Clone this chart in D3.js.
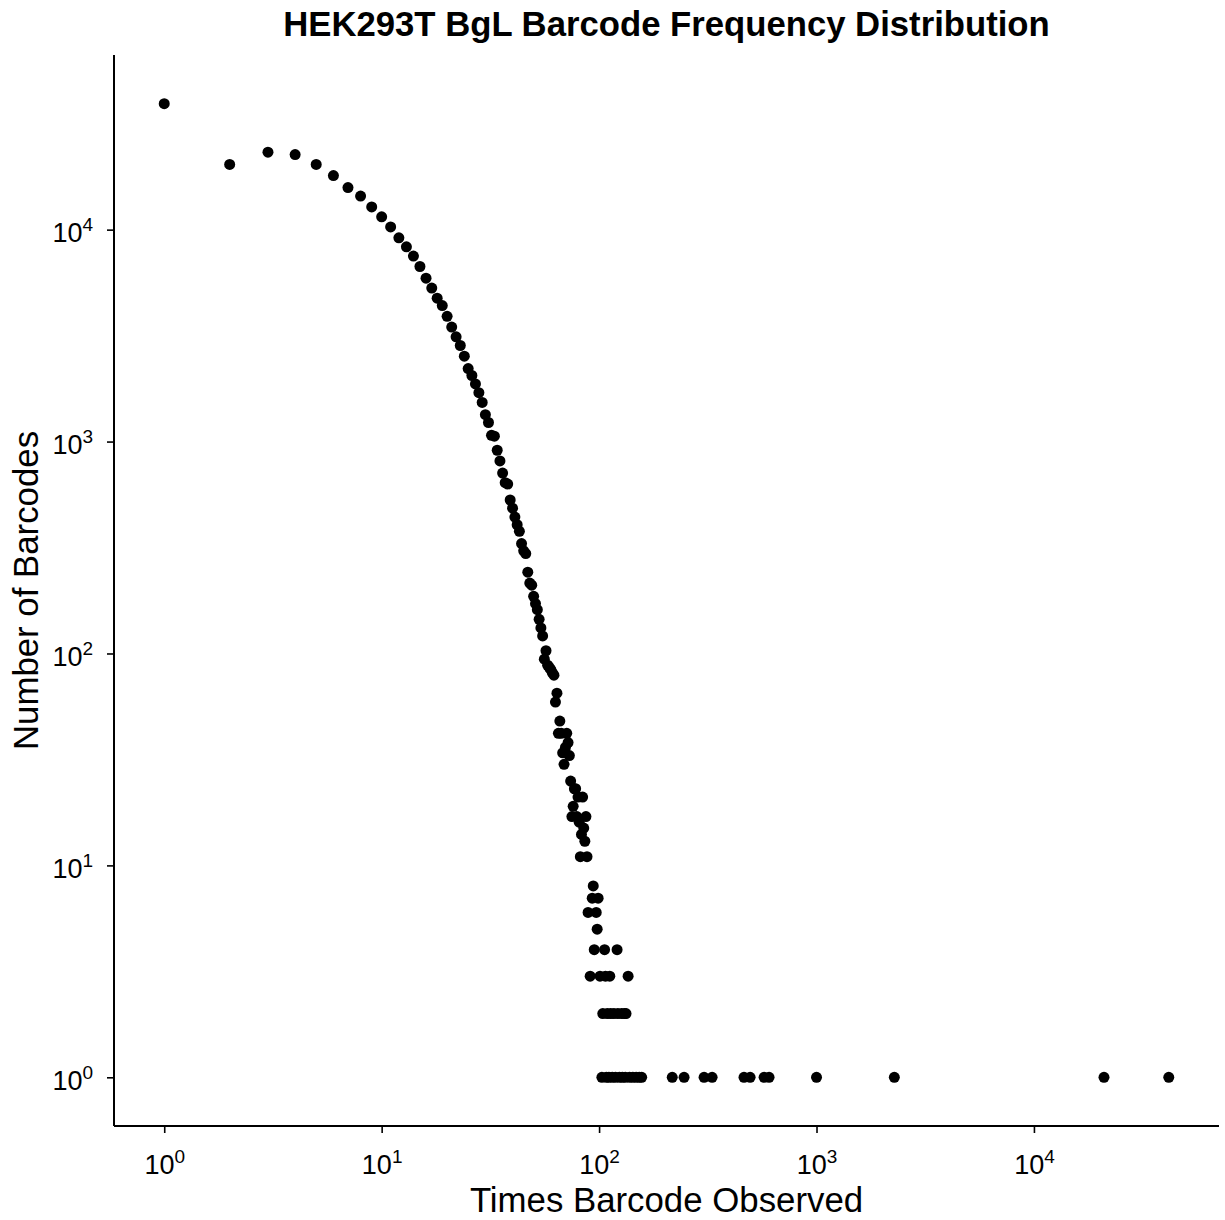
<!DOCTYPE html>
<html>
<head>
<meta charset="utf-8">
<script src="https://cdn.jsdelivr.net/npm/d3@7"></script>
<style>
  body { margin: 0; background: #fff; }
  svg { font-family: "Liberation Sans", Arial, Helvetica, sans-serif; }
</style>
</head>
<body>
<script>
// times a barcode was observed (x) and how many barcodes had that count (y)
const times = [
  1, 2, 3, 4, 5, 6, 7, 8, 9, 10,
  11, 12, 13, 14, 15, 16, 17, 18, 19, 20,
  21, 22, 23, 24, 25, 26, 27, 28, 29, 30,
  31, 32, 33, 34, 35, 36, 37, 38, 39, 40,
  41, 42, 43, 44, 45, 46, 47, 48, 49, 50,
  51, 52, 53, 54, 55, 56, 57, 58, 59, 60,
  61, 62, 63, 64, 65, 66, 67, 68, 69, 70,
  71, 72, 73, 74, 75, 76, 77, 78, 79, 80,
  81, 82, 83, 84, 85, 86, 87, 88, 89, 91,
  93, 94, 95, 97, 98, 99, 101, 103, 104, 106,
  107, 108, 109, 111, 112, 113, 115, 117, 119, 121,
  122, 124, 127, 128, 131, 132, 133, 136, 138, 143,
  148, 153, 157,
  217, 246, 304, 331, 464, 495, 574, 605, 1000, 2280, 21000, 41700
];
const barcodes = [
  39300, 20300, 23200, 22600, 20300, 18000, 15800, 14400, 12800, 11500,
  10300, 9150, 8300, 7500, 6700, 5900, 5300, 4750, 4380, 3900,
  3470, 3120, 2840, 2530, 2210, 2050, 1870, 1700, 1530, 1340,
  1230, 1070, 1060, 910, 810, 710, 640, 630, 530, 485,
  440, 405, 377, 330, 305, 296, 242, 215, 210, 186,
  172, 161, 145, 132, 121, 94, 103, 88, 86, 84,
  81, 79, 59, 65, 42, 48, 42, 34, 30, 36,
  42, 38, 33, 25, 17, 19, 23, 23, 17, 21,
  16, 11, 14, 21, 15, 13, 17, 11, 6, 3,
  7, 8, 4, 6, 5, 7, 3, 1, 2, 4,
  3, 1, 2, 1, 3, 2, 1, 2, 1, 4,
  2, 1, 2, 1, 2, 1, 2, 3, 1, 1,
  1, 1, 1,
  1, 1, 1, 1, 1, 1, 1, 1, 1, 1, 1, 1
];
const tickPowers = [0, 1, 2, 3, 4];

const titleText = "HEK293T BgL Barcode Frequency Distribution";
const xTitle = "Times Barcode Observed";
const yTitle = "Number of Barcodes";

const width = 1225, height = 1220;
const margin = {top: 55, right: 6, bottom: 94, left: 114};

const data = times.map((t, i) => ({x: t, y: barcodes[i]}));

const svg = d3.select("body").append("svg")
  .attr("width", width)
  .attr("height", height);

// ggplot-like 5% expansion in log space
function expandLog(ext) {
  const lo = Math.log10(ext[0]), hi = Math.log10(ext[1]);
  const pad = (hi - lo) * 0.05;
  return [Math.pow(10, lo - pad), Math.pow(10, hi + pad)];
}

const x = d3.scaleLog()
  .domain(expandLog(d3.extent(times)))
  .range([margin.left, width - margin.right]);

const y = d3.scaleLog()
  .domain(expandLog(d3.extent(barcodes)))
  .range([height - margin.bottom, margin.top]);

const tickVals = tickPowers.map(p => Math.pow(10, p));

// superscript labels like 10^4
function powLabel(sel) {
  sel.each(function(d) {
    const t = d3.select(this).text("");
    t.append("tspan").text("10");
    t.append("tspan")
      .attr("font-size", 19)
      .attr("dy", -11)
      .text(Math.round(Math.log10(d)));
  });
}

// x axis
const gx = svg.append("g")
  .attr("transform", `translate(0,${height - margin.bottom})`)
  .call(d3.axisBottom(x).tickValues(tickVals).tickSize(7).tickSizeOuter(0).tickPadding(10));
gx.select(".domain").attr("stroke-width", 2);
gx.selectAll(".tick line").attr("stroke-width", 1.6);
gx.selectAll(".tick text")
  .attr("font-size", 27)
  .attr("fill", "#000")
  .attr("dy", "1.15em")
  .attr("text-anchor", "middle")
  .call(powLabel);

// y axis
const gy = svg.append("g")
  .attr("transform", `translate(${margin.left},0)`)
  .call(d3.axisLeft(y).tickValues(tickVals).tickSize(7).tickSizeOuter(0).tickPadding(14));
gy.select(".domain").attr("stroke-width", 2);
gy.selectAll(".tick line").attr("stroke-width", 1.6);
gy.selectAll(".tick text")
  .attr("font-size", 27)
  .attr("fill", "#000")
  .attr("dy", 12)
  .call(powLabel);

// stretch the axis lines across the full panel
gx.select(".domain").attr("d", `M${margin.left},0H${width - margin.right}`);
gy.select(".domain").attr("d", `M0,${margin.top}V${height - margin.bottom}`);

// points
svg.append("g")
  .selectAll("circle")
  .data(data)
  .enter()
  .append("circle")
  .attr("cx", d => x(d.x))
  .attr("cy", d => y(d.y))
  .attr("r", 5.5)
  .attr("fill", "#000");

// titles
svg.append("text")
  .attr("x", (margin.left + width - margin.right) / 2)
  .attr("y", 36)
  .attr("text-anchor", "middle")
  .attr("font-size", 34.7)
  .attr("font-weight", "bold")
  .text(titleText);

svg.append("text")
  .attr("x", (margin.left + width - margin.right) / 2)
  .attr("y", 1212)
  .attr("text-anchor", "middle")
  .attr("font-size", 34.8)
  .text(xTitle);

svg.append("text")
  .attr("transform", `translate(38,${(margin.top + height - margin.bottom) / 2}) rotate(-90)`)
  .attr("text-anchor", "middle")
  .attr("font-size", 34.8)
  .text(yTitle);
</script>
</body>
</html>
